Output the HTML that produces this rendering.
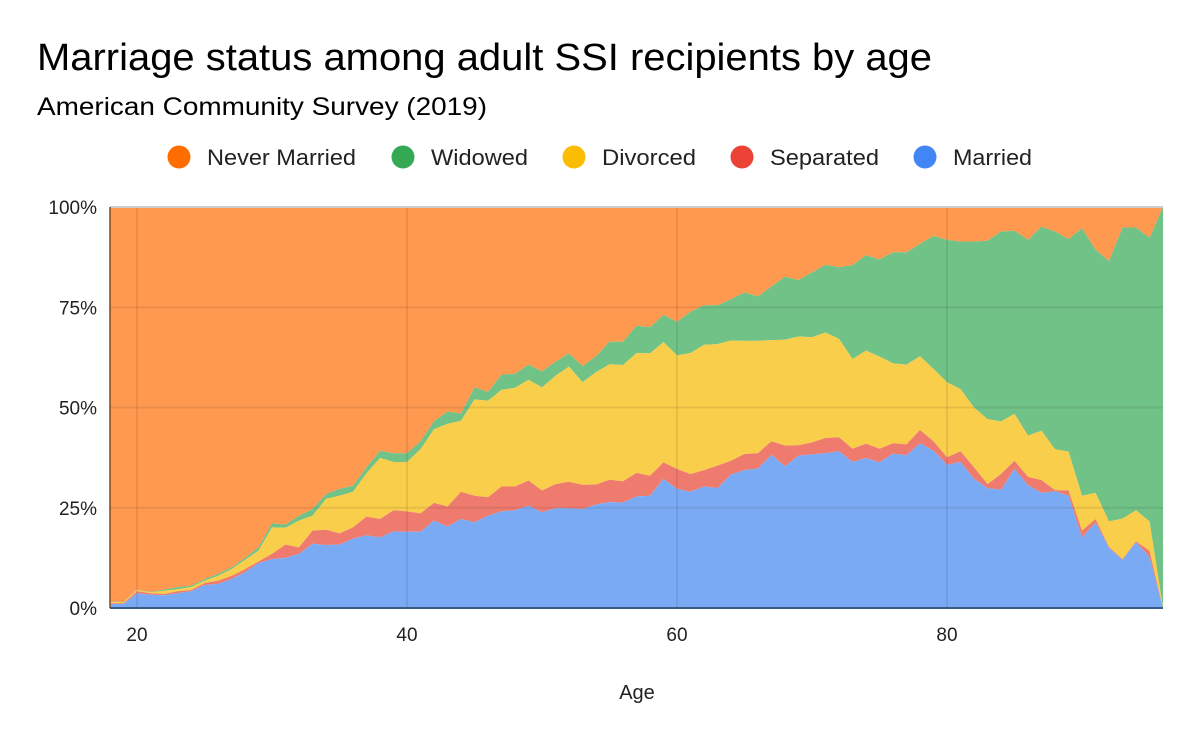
<!DOCTYPE html>
<html><head><meta charset="utf-8"><style>
html,body{margin:0;padding:0;background:#fff;}
svg{display:block;font-family:"Liberation Sans",Arial,sans-serif;}
</style></head><body>
<svg id="chart" width="1200" height="742" viewBox="0 0 1200 742">
<text x="37" y="70" font-size="38" textLength="895" lengthAdjust="spacingAndGlyphs" fill="#000">Marriage status among adult SSI recipients by age</text>
<text x="37" y="115" font-size="25" textLength="450" lengthAdjust="spacingAndGlyphs" fill="#000">American Community Survey (2019)</text>
<g id="legend"></g>
<g id="areas"></g>
<g id="grid"></g>
<g id="yticks"></g>
<g id="xticks"></g>
<text x="637" y="699" font-size="20" text-anchor="middle" fill="#222">Age</text>
</svg>
<script>
const ageStart = 18;
const ageEnd = 96;
// cumulative stacked shares (percent) for each age 18..96
const marriedTop = [1,1,3.7,3.3,3.2,3.7,4.2,5.7,6,7.2,8.9,11.2,12.2,12.5,13.5,16,15.7,15.8,17.3,18.1,17.6,19.1,19,19,21.8,20.3,
22.2,21.4,23,24.1,24.4,25.5,23.9,24.9,24.9,24.7,25.8,26.4,26.3,27.8,28,32.2,29.7,29,30.3,29.9,33.3,34.4,34.8,38.2,35.3,38,
38.3,38.6,39.1,36.4,37.4,36.3,38.5,38.1,41.1,39.2,35.7,36.4,32.2,29.9,29.5,34.7,30.6,28.7,29.1,28,17.6,21.3,15,12,16.4,12.7,0];
const separatedTop = [1.2,1.2,4.2,3.7,3.5,4.2,4.5,6.2,6.8,8,9.7,11.6,13.5,15.8,15.1,19.3,19.5,18.6,20.1,22.8,22.2,24.4,24.1,23.6,26.2,25.3,
29,28,27.6,30.3,30.3,31.8,29.3,30.9,31.5,30.7,30.8,32,31.6,33.7,33,36.3,34.7,33.4,34.4,35.5,36.7,38.4,38.6,41.6,40.5,40.6,
41.3,42.4,42.6,39.7,41,39.7,41.1,40.8,44.4,41.6,37.6,39.1,35.1,30.9,33.4,36.7,32.7,31.9,29.4,29.3,19.3,22.2,15.2,12.2,16.6,14.3,0];
const divorcedTop = [1.5,1.4,4.5,3.9,4.3,4.7,5.2,6.8,8,9.7,12,14.3,20.1,20,21.8,23,27.2,28,29,33.6,37.4,36.4,36.4,39.6,44.6,45.9,
46.7,52,51.7,54.4,54.9,56.9,55,57.9,60.2,56.3,58.8,60.8,60.6,63.6,63.5,66.3,63,63.6,65.6,65.8,66.7,66.6,66.6,66.8,66.9,67.7,
67.5,68.7,67.1,62.1,64.2,62.7,61,60.7,62.8,59.6,56.3,54.6,50,47.1,46.5,48.4,43,44.2,39.6,39,28,28.7,21.6,22.3,24.4,21.6,0];
const widowedTop = [1.6,1.5,4.6,4,4.6,5.2,5.5,7.2,8.5,10.1,12.5,15.1,21.1,20.8,23,24.7,28.4,29.7,30.5,35.1,39.2,38.6,38.6,41.6,46.6,49,
48.5,55,53.9,58.2,58.4,60.7,59,61.4,63.5,60.3,62.8,66.4,66.4,70.4,70,73.1,71.4,73.9,75.5,75.5,77,78.7,77.7,80.2,82.6,81.8,
83.7,85.6,85,85.5,88,86.9,88.7,88.7,90.8,92.8,91.8,91.4,91.4,91.6,93.9,94.1,91.8,95.1,93.9,92,94.7,89.4,86.5,94.9,94.9,92.3,100];
const yTicks = [0,25,50,75,100];
const yTickLabels = ["0%","25%","50%","75%","100%"];
const xTicks = [20,40,60,80];
const legendNames = ["Never Married","Widowed","Divorced","Separated","Married"];

const NS = "http://www.w3.org/2000/svg";
const X0 = 110, X1 = 1163, Y0 = 608, Y1 = 207;
function xs(a){ return X0 + (a - ageStart) / (ageEnd - ageStart) * (X1 - X0); }
function ys(v){ return Y0 - v / 100 * (Y0 - Y1); }
function mk(tag, attrs, parent){
  const e = document.createElementNS(NS, tag);
  for (const k in attrs) e.setAttribute(k, attrs[k]);
  parent.appendChild(e);
  return e;
}
const n = marriedTop.length;
const areas = document.getElementById('areas');
function band(top, bottom, fill, name){
  let pts = [];
  for (let i = 0; i < n; i++) pts.push(xs(ageStart + i).toFixed(1) + ',' + ys(top ? top[i] : 100).toFixed(1));
  for (let i = n - 1; i >= 0; i--) pts.push(xs(ageStart + i).toFixed(1) + ',' + ys(bottom ? bottom[i] : 0).toFixed(1));
  const p = mk('polygon', {points: pts.join(' '), fill: fill}, areas);
  
  
}
band(null, widowedTop, '#FF994F', 'area-never-married');
band(widowedTop, divorcedTop, '#71C287', 'area-widowed');
band(divorcedTop, separatedTop, '#F9CE4B', 'area-divorced');
band(separatedTop, marriedTop, '#EF7B6F', 'area-separated');
band(marriedTop, null, '#7BAAF4', 'area-married');

const grid = document.getElementById('grid');
yTicks.forEach(function(t){
  if (t === 0 || t === 100) return;
  const l = mk('line', {x1: X0, x2: X1, y1: ys(t), y2: ys(t), stroke: 'rgba(0,0,0,0.08)', 'stroke-width': 2}, grid);
  
  
});
xTicks.forEach(function(t){
  const l = mk('line', {x1: xs(t), x2: xs(t), y1: Y1, y2: Y0, stroke: 'rgba(0,0,0,0.08)', 'stroke-width': 2}, grid);
  
  
});
const topLine = mk('line', {x1: X0, x2: X1, y1: Y1, y2: Y1, stroke: '#ccc', 'stroke-width': 2}, grid);


const base = mk('line', {x1: X0, x2: X1, y1: Y0, y2: Y0, stroke: '#3a5a8a', 'stroke-width': 2}, grid);


const leftAx = mk('line', {x1: X0, x2: X0, y1: Y1, y2: Y0, stroke: '#7a4a20', 'stroke-width': 1.5}, grid);



const yg = document.getElementById('yticks');
yTicks.forEach(function(t, i){
  const tx = mk('text', {x: 97, y: ys(t) + 7, 'font-size': 19, 'text-anchor': 'end', fill: '#222'}, yg);
  tx.textContent = yTickLabels[i];
  
  
});
const xg = document.getElementById('xticks');
xTicks.forEach(function(t){
  const tx = mk('text', {x: xs(t), y: 641, 'font-size': 19, 'text-anchor': 'middle', fill: '#222'}, xg);
  tx.textContent = String(t);
  
  
});

const lg = document.getElementById('legend');
const legendColors = ['#FF6D01','#34A853','#FBBC04','#EA4335','#4285F4'];
const legendX = [179, 403, 574, 742, 925];
const legendTextW = [149, 97, 94, 109, 79];
legendNames.forEach(function(nm, i){
  const g = mk('g', {}, lg);
  
  
  mk('circle', {cx: legendX[i], cy: 157, r: 11.5, fill: legendColors[i]}, g);
  const tx = mk('text', {x: legendX[i] + 28, y: 165, 'font-size': 22, fill: '#222', textLength: legendTextW[i], lengthAdjust: 'spacingAndGlyphs'}, g);
  tx.textContent = nm;
});
</script>
</body></html>
